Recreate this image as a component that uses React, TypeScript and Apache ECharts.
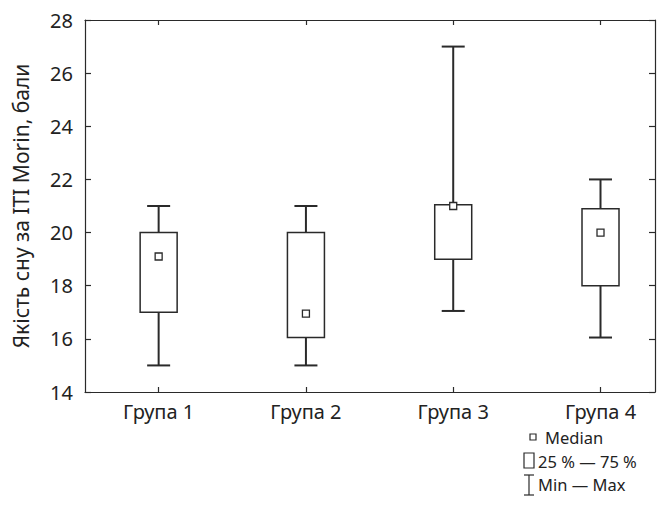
import React, { useEffect, useRef } from "react";
import * as echarts from "echarts";

const categories = ["Група 1", "Група 2", "Група 3", "Група 4"];
const positions = [1, 2, 3, 4];
const mins = [15, 15, 17.05, 16.05];
const q1s = [17, 16.05, 19, 18];
const medians = [19.1, 16.95, 21, 20];
const q3s = [20, 20, 21.05, 20.9];
const maxs = [21, 21, 27, 22];
const yTicks = { min: 14, max: 28, interval: 2 };
const yTitle = "Якість сну за ITI Morin, бали";
const legendLabels = ["Median", "25 % — 75 %", "Min — Max"];

const FONT = "Noto Sans";
const INK = "#2a2a2a";

export default function App() {
  const ref = useRef<HTMLDivElement>(null);
  useEffect(() => {
    const chart = echarts.init(ref.current!, null, { renderer: "svg" });
    const data = positions.map((p, i) => [p, mins[i], q1s[i], medians[i], q3s[i], maxs[i]]);
    const xCommon = {
      type: "value",
      min: 0.5,
      max: 4.37,
      splitLine: { show: false },
      axisLine: { show: true, onZero: false, lineStyle: { color: INK, width: 1.2 } },
      axisTick: { show: true, inside: true, length: 5, customValues: positions, lineStyle: { color: INK, width: 1.2 } },
    };
    const yCommon = {
      type: "value",
      min: yTicks.min,
      max: yTicks.max,
      interval: yTicks.interval,
      splitLine: { show: false },
      axisLine: { show: true, onZero: false, lineStyle: { color: INK, width: 1.2 } },
      axisTick: { show: true, inside: true, length: 6, lineStyle: { color: INK, width: 1.2 } },
    };
    chart.setOption({
      animation: false,
      grid: { left: 85, right: 7, top: 20, bottom: 115, containLabel: false, outerBoundsMode: "none" },
      xAxis: [
        {
          ...xCommon,
          position: "bottom",
          axisLabel: {
            customValues: positions,
            formatter: (v: number) => categories[Math.round(v) - 1] ?? "",
            fontFamily: FONT,
            fontSize: 20,
            color: "#222",
            margin: 9,
          },
        },
        { ...xCommon, position: "top", axisLabel: { show: false } },
      ],
      yAxis: [
        {
          ...yCommon,
          position: "left",
          name: yTitle,
          nameLocation: "middle",
          nameGap: 54,
          nameTextStyle: { fontFamily: FONT, fontSize: 21, color: "#222" },
          axisLabel: { fontFamily: FONT, fontSize: 20, color: "#222", margin: 12 },
        },
        { ...yCommon, position: "right", axisLabel: { show: false } },
      ],
      series: [
        {
          type: "custom",
          xAxisIndex: 0,
          yAxisIndex: 0,
          data,
          renderItem: (params: any, api: any) => {
            const x = api.value(0);
            const pMin = api.coord([x, api.value(1)]);
            const pQ1 = api.coord([x, api.value(2)]);
            const pMed = api.coord([x, api.value(3)]);
            const pQ3 = api.coord([x, api.value(4)]);
            const pMax = api.coord([x, api.value(5)]);
            const cx = pMin[0];
            const bw = 37;
            const cw = 23;
            const ms = 7;
            const wStyle = { stroke: INK, lineWidth: 2 };
            return {
              type: "group",
              children: [
                { type: "line", shape: { x1: cx, y1: pMax[1], x2: cx, y2: pQ3[1] }, style: wStyle },
                { type: "line", shape: { x1: cx, y1: pQ1[1], x2: cx, y2: pMin[1] }, style: wStyle },
                { type: "line", shape: { x1: cx - cw / 2, y1: pMax[1], x2: cx + cw / 2, y2: pMax[1] }, style: wStyle },
                { type: "line", shape: { x1: cx - cw / 2, y1: pMin[1], x2: cx + cw / 2, y2: pMin[1] }, style: wStyle },
                {
                  type: "rect",
                  shape: { x: cx - bw / 2, y: pQ3[1], width: bw, height: pQ1[1] - pQ3[1] },
                  style: { fill: "#fff", stroke: INK, lineWidth: 1.5 },
                },
                {
                  type: "rect",
                  shape: { x: cx - ms / 2, y: pMed[1] - ms / 2, width: ms, height: ms },
                  style: { fill: "#fff", stroke: INK, lineWidth: 1.3 },
                },
              ],
            };
          },
        },
      ],
      graphic: [
        { type: "rect", shape: { x: 530, y: 434, width: 6, height: 6 }, style: { fill: "#fff", stroke: INK, lineWidth: 1.2 } },
        { type: "text", x: 545, y: 437, style: { text: legendLabels[0], fontFamily: FONT, fontSize: 16.5, fill: "#222", verticalAlign: "middle" } },
        { type: "rect", shape: { x: 524, y: 453, width: 10, height: 15 }, style: { fill: "#fff", stroke: INK, lineWidth: 1.2 } },
        { type: "text", x: 538, y: 461, style: { text: legendLabels[1], fontFamily: FONT, fontSize: 16.5, fill: "#222", verticalAlign: "middle" } },
        { type: "line", shape: { x1: 529, y1: 475, x2: 529, y2: 495 }, style: { stroke: INK, lineWidth: 1.2 } },
        { type: "line", shape: { x1: 524, y1: 475, x2: 534, y2: 475 }, style: { stroke: INK, lineWidth: 1.2 } },
        { type: "line", shape: { x1: 524, y1: 495, x2: 534, y2: 495 }, style: { stroke: INK, lineWidth: 1.2 } },
        { type: "text", x: 538, y: 484, style: { text: legendLabels[2], fontFamily: FONT, fontSize: 16.5, fill: "#222", verticalAlign: "middle" } },
      ],
    });
    return () => chart.dispose();
  }, []);
  return <div ref={ref} style={{ width: 662, height: 507, position: "absolute", left: 0, top: 0 }} />;
}
